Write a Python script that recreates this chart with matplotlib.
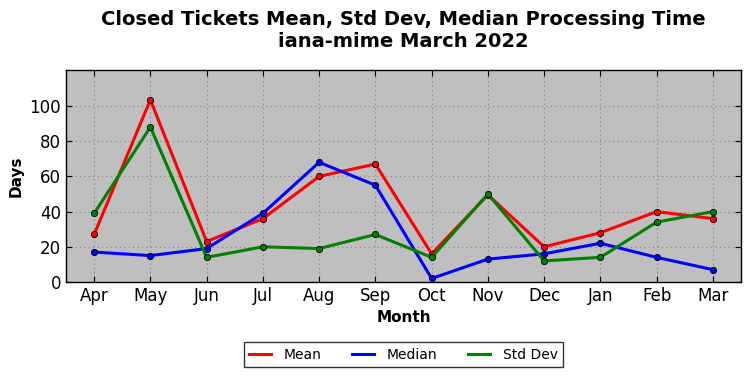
import matplotlib
matplotlib.use("Agg")
import matplotlib.pyplot as plt

months = ["Apr", "May", "Jun", "Jul", "Aug", "Sep", "Oct", "Nov", "Dec", "Jan", "Feb", "Mar"]
mean = [27, 103.5, 23, 36, 60, 67, 16, 49.5, 20, 28, 40, 36]
median = [17, 15, 19, 39, 68, 55, 2, 13, 16, 22, 14, 7]
std = [39, 88, 14, 20, 19, 27, 14, 50, 12, 14, 34, 40]

fig = plt.figure(figsize=(7.51, 3.78), dpi=100)
ax = fig.add_axes([0.0879, 0.254, 0.8988, 0.561])
ax.set_facecolor("#bfbfbf")
x = list(range(len(months)))
for vals, col, lab in [(mean, "red", "Mean"), (median, "blue", "Median"), (std, "green", "Std Dev")]:
    ax.plot(x, vals, color=col, lw=2.2, marker="o", ms=4.5, mec="black", mew=0.6, label=lab)

ax.set_xlim(-0.5, 11.5)
ax.set_ylim(0, 120.5)
ax.set_yticks([0, 20, 40, 60, 80, 100])
ax.set_xticks(x)
ax.set_xticklabels(months)
ax.tick_params(direction="in", labelsize=12, length=4, top=True, right=True)
ax.grid(True, linestyle=(0, (1, 3)), color="#808080", linewidth=0.8)
for s in ax.spines.values():
    s.set_linewidth(1.0)
ax.set_xlabel("Month", fontsize=11, fontweight="bold")
ax.set_ylabel("Days", fontsize=11, fontweight="bold")
fig.suptitle("Closed Tickets Mean, Std Dev, Median Processing Time\niana-mime March 2022",
             fontsize=14, fontweight="bold", x=0.5373, y=0.974)
leg = ax.legend(loc="upper center", bbox_to_anchor=(0.5, -0.25), ncol=3, fancybox=False,
                frameon=True, fontsize=10, handlelength=1.6, handletextpad=0.9,
                columnspacing=2.2, borderpad=0.4)
leg.get_frame().set_edgecolor("black")
leg.get_frame().set_linewidth(1.0)
for h in leg.get_lines():
    h.set_marker("")
fig.savefig("out.png", dpi=100)
